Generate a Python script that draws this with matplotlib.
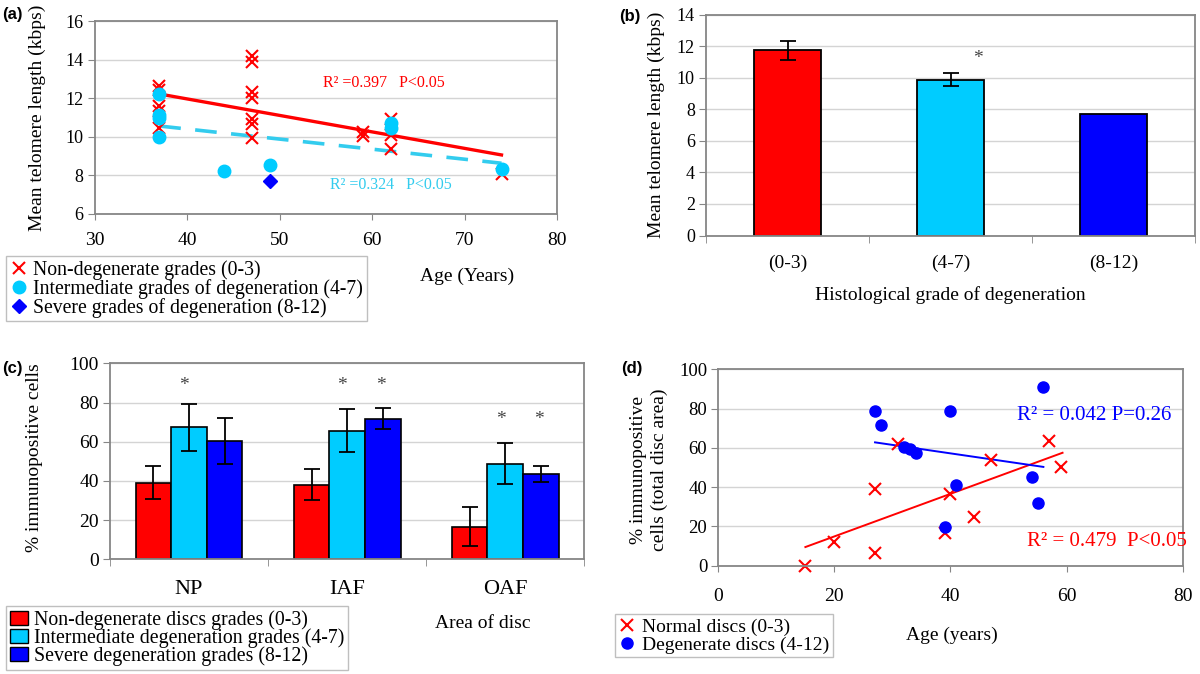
import matplotlib
matplotlib.use('Agg')
import matplotlib.pyplot as plt
from matplotlib.patches import Patch
import numpy as np

plt.rcParams['font.family'] = ['Liberation Serif', 'DejaVu Serif']

RED = '#ff0000'
CYAN = '#00ccff'
BLUE = '#0000ff'
FRAME = '#868686'
GRID = '#d4d4d4'

# (a) telomere length vs age
a_red_age = [37, 37, 37, 37, 37, 47, 47, 47, 47, 47, 47, 47, 59, 59, 62, 62, 62, 74]
a_red_len = [12.65, 12.45, 11.6, 11.35, 10.45, 14.2, 13.9, 12.3, 12.0, 10.9, 10.65, 9.95,
             10.25, 10.05, 10.9, 10.1, 9.35, 8.05]
a_cyan_age = [37, 37, 37, 37, 44, 49, 62, 62, 74]
a_cyan_len = [12.2, 11.15, 10.95, 10.0, 8.25, 8.55, 10.7, 10.45, 8.35]
a_blue_age = [49]
a_blue_len = [7.7]
a_red_fit_x = [37, 74]
a_red_fit_y = [12.22, 9.06]
a_cyan_fit_x = [37, 74]
a_cyan_fit_y = [10.56, 8.63]

# (b) mean telomere length by grade
b_grades = ['(0-3)', '(4-7)', '(8-12)']
b_means = [11.73, 9.88, 7.69]
b_err = [0.62, 0.44]

# (c) immunopositive cells by area
c_areas = ['NP', 'IAF', 'OAF']
c_non = [39.1, 38.1, 16.7]
c_non_err = [8.5, 8.0, 9.8]
c_int = [67.3, 65.6, 48.8]
c_int_err = [12.0, 11.0, 10.5]
c_sev = [60.4, 71.8, 43.5]
c_sev_err = [11.6, 5.2, 4.0]
c_star_int = [89.8, 89.8, 72.4]
c_star_sev = [None, 89.8, 72.4]

# (d) immunopositive cells vs age
d_norm_age = [15, 20, 27, 27, 31, 39, 40, 44, 47, 57, 59]
d_norm_pct = [0, 12.2, 38.9, 6.5, 62, 16.5, 36.3, 24.9, 53.8, 63.7, 50.4]
d_deg_age = [27, 28, 32, 33, 34, 39, 40, 41, 54, 55, 56]
d_deg_pct = [78.8, 71.6, 60.3, 59.3, 57.2, 19.9, 78.8, 41.1, 45.3, 32.1, 91.1]
d_norm_fit_x = [15, 59.3]
d_norm_fit_y = [9.5, 57.5]
d_deg_fit_x = [27, 56]
d_deg_fit_y = [62.8, 50.3]

W, H = 1200, 674
fig = plt.figure(figsize=(W / 100, H / 100), dpi=100)


def px(x, y):
    return x / W, 1 - y / H


def add_ax(l, t, r, b):
    return fig.add_axes([l / W, 1 - b / H, (r - l) / W, (b - t) / H])


def style(ax, xsize=14, ysize=13, xpad=9):
    for s in ax.spines.values():
        s.set_color(FRAME)
        s.set_linewidth(1.3)
    ax.grid(axis='y', color=GRID, lw=1)
    ax.set_axisbelow(True)
    ax.tick_params(axis='y', direction='out', length=5, color=FRAME, labelsize=ysize, pad=3)
    ax.tick_params(axis='x', direction='out', length=4, color=FRAME, labelsize=xsize, pad=xpad)


def legend(ax, handles, labels, x, y, size=14, spacing=-0.05):
    lg = ax.legend(handles, labels, loc='upper left', bbox_to_anchor=px(x, y),
                   bbox_transform=fig.transFigure, frameon=True, fancybox=False,
                   fontsize=size, borderpad=0.2, handlelength=0.9, handletextpad=0.3,
                   labelspacing=spacing, borderaxespad=0)
    lg.get_frame().set_edgecolor('#b0b0b0')
    lg.get_frame().set_linewidth(1)
    return lg


# ---------- (a)
ax = add_ax(94.5, 21, 557, 214)
style(ax)
ax.set_xlim(30, 80)
ax.set_ylim(6, 16)
ax.set_xticks(range(30, 81, 10))
ax.set_yticks(range(6, 17, 2))
ax.plot(a_red_fit_x, a_red_fit_y, color=RED, lw=2.4)
ax.plot(a_cyan_fit_x, a_cyan_fit_y, color='#33ccee', lw=2.6, dashes=(6, 4))
h1, = ax.plot(a_red_age, a_red_len, 'x', color=RED, ms=9, mew=1.5, ls='none')
h2, = ax.plot(a_cyan_age, a_cyan_len, 'o', color=CYAN, ms=9, ls='none')
h3, = ax.plot(a_blue_age, a_blue_len, 'D', color=BLUE, ms=7, ls='none')
ax.text(54.7, 12.77, 'R² =0.397   P<0.05', color=RED, fontsize=11.5, va='center')
ax.text(55.5, 7.5, 'R² =0.324   P<0.05', color='#33ccee', fontsize=11.5, va='center')
legend(ax, [h1, h2, h3], ['Non-degenerate grades (0-3)',
                          'Intermediate grades of degeneration (4-7)',
                          'Severe grades of degeneration (8-12)'], 5.8, 256, size=14.2)
fig.text(*px(467, 276), 'Age (Years)', fontsize=14, ha='center', va='center')
fig.text(*px(37, 118), 'Mean telomere length (kbps)', fontsize=14, rotation=90,
         ha='center', va='center')

# ---------- (b)
ax = add_ax(706, 14.5, 1195, 235.5)
style(ax)
xb = np.arange(len(b_grades))
ax.bar(xb, b_means, width=0.41, color=[RED, CYAN, BLUE], edgecolor='black', lw=1.3)
ax.errorbar(xb[:2], b_means[:2], yerr=b_err, fmt='none', ecolor='black', elinewidth=1.3,
            capsize=6, capthick=1.3)
ax.text(1.17, 10.95, '*', fontsize=14, ha='center', va='baseline', color='#444444')
ax.set_xlim(-0.5, 2.5)
ax.set_ylim(0, 14)
ax.set_yticks(range(0, 15, 2))
ax.set_xticks(xb)
ax.set_xticklabels(b_grades)
ax.tick_params(axis='x', length=0, pad=14)
ax.set_xticks([-0.5, 0.5, 1.5, 2.5], minor=True)
ax.tick_params(axis='x', which='minor', length=5, color=FRAME)
fig.text(*px(950, 295), 'Histological grade of degeneration', fontsize=14,
         ha='center', va='center')
fig.text(*px(656, 125), 'Mean telomere length (kbps)', fontsize=14, rotation=90,
         ha='center', va='center')

# ---------- (c)
ax = add_ax(110, 363.3, 584.3, 559.3)
style(ax)
xc = np.arange(len(c_areas))
bw = 0.225
for off, vals, errs, col in [(-bw, c_non, c_non_err, RED), (0, c_int, c_int_err, CYAN),
                             (bw, c_sev, c_sev_err, BLUE)]:
    ax.bar(xc + off, vals, width=bw, color=col, edgecolor='black', lw=1.2)
    ax.errorbar(xc + off, vals, yerr=errs, fmt='none', ecolor='black', elinewidth=1.3,
                capsize=6, capthick=1.3)
for i in range(3):
    ax.text(xc[i] - 0.03, c_star_int[i] - 3.5, '*', fontsize=14, ha='center', color='#444444')
    if c_star_sev[i] is not None:
        ax.text(xc[i] + bw - 0.01, c_star_sev[i] - 3.5, '*', fontsize=14, ha='center',
                color='#444444')
ax.set_xlim(-0.5, 2.5)
ax.set_ylim(0, 100)
ax.set_yticks(range(0, 101, 20))
ax.set_xticks(xc)
ax.set_xticklabels(c_areas)
ax.tick_params(axis='x', length=0, pad=15, labelsize=16)
ax.set_xticks([-0.5, 0.5, 1.5, 2.5], minor=True)
ax.tick_params(axis='x', which='minor', length=5, color=FRAME)
ax.tick_params(axis='y', labelsize=14)
sq = [Patch(facecolor=c, edgecolor='black', lw=1) for c in (RED, CYAN, BLUE)]
legend(ax, sq, ['Non-degenerate discs grades (0-3)',
                'Intermediate degeneration grades (4-7)',
                'Severe degeneration grades (8-12)'], 5.8, 606, size=14.3, spacing=-0.08)
fig.text(*px(483, 623), 'Area of disc', fontsize=14, ha='center', va='center')
fig.text(*px(35, 458), '% immunopositive cells', fontsize=14, rotation=90,
         ha='center', va='center')

# ---------- (d)
ax = add_ax(718.3, 369.3, 1182.7, 565.7)
style(ax, xsize=14, ysize=13.5, xpad=12)
ax.set_xlim(0, 80)
ax.set_ylim(0, 100)
ax.set_xticks(range(0, 81, 20))
ax.set_yticks(range(0, 101, 20))
ax.plot(d_norm_fit_x, d_norm_fit_y, color=RED, lw=1.4)
ax.plot(d_deg_fit_x, d_deg_fit_y, color=BLUE, lw=1.4)
g1, = ax.plot(d_norm_age, d_norm_pct, 'x', color=RED, ms=8, mew=1.5, ls='none', clip_on=False)
g2, = ax.plot(d_deg_age, d_deg_pct, 'o', color=BLUE, ms=8, ls='none')
ax.text(51.5, 76.7, 'R² = 0.042 P=0.26', color=BLUE, fontsize=15, va='center')
ax.text(53.2, 12.2, 'R² = 0.479  P<0.05', color=RED, fontsize=15, va='center', clip_on=False)
legend(ax, [g1, g2], ['Normal discs (0-3)', 'Degenerate discs (4-12)'], 614.6, 614.3,
       size=14, spacing=0.0)
fig.text(*px(952, 635), 'Age (years)', fontsize=14, ha='center', va='center')
fig.text(*px(649, 470), '% immunopositive\ncells (total disc area)', fontsize=14,
         rotation=90, ha='center', va='center', linespacing=1.25)

# panel letters
for lab, x, y in [('(a)', 12, 14), ('(b)', 630, 16), ('(c)', 12, 368), ('(d)', 632, 368)]:
    fig.text(*px(x, y), lab, fontsize=12, fontweight='bold', family='Liberation Sans',
             ha='center', va='center')

fig.savefig('out.png', dpi=100)
